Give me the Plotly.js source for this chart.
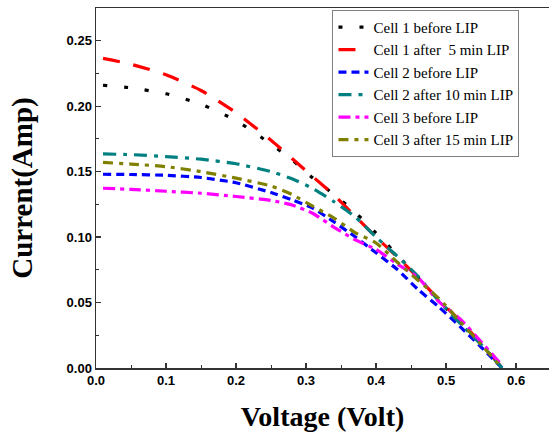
<!DOCTYPE html>
<html>
<head>
<meta charset="utf-8">
<script src="https://cdn.plot.ly/plotly-3.0.1.min.js"></script>
<style>
html,body{margin:0;padding:0;background:#fff;}
#chart{width:549px;height:435px;}
</style>
</head>
<body>
<div id="chart"></div>
<script>
// Voltage (V) sample points shared by all series
const voltage = [0.01, 0.05, 0.10, 0.15, 0.20, 0.25, 0.28, 0.31, 0.34, 0.37, 0.40, 0.43, 0.46, 0.49, 0.52, 0.55, 0.58];

const seriesNames = [
  "Cell 1 before LIP",
  "Cell 1 after  5 min LIP",
  "Cell 2 before LIP",
  "Cell 2 after 10 min LIP",
  "Cell 3 before LIP",
  "Cell 3 after 15 min LIP"
];

const cell1Before = [0.216, 0.214, 0.2095, 0.2015, 0.189, 0.171, 0.159, 0.145, 0.1325, 0.119, 0.103, 0.0865, 0.069, 0.051, 0.035, 0.018, 0.0];
const cell1After5 = [0.2365, 0.232, 0.224, 0.212, 0.195, 0.174, 0.160, 0.146, 0.132, 0.116, 0.100, 0.085, 0.069, 0.052, 0.036, 0.019, 0.0];
const cell2Before = [0.148, 0.1478, 0.1472, 0.1455, 0.1415, 0.134, 0.1285, 0.122, 0.1115, 0.1003, 0.088, 0.0754, 0.060, 0.0465, 0.0316, 0.016, 0.0];
const cell2After10 = [0.1635, 0.163, 0.1615, 0.1595, 0.156, 0.150, 0.1445, 0.137, 0.127, 0.1155, 0.100, 0.0855, 0.070, 0.051, 0.034, 0.018, 0.0];
const cell3Before = [0.1373, 0.1365, 0.135, 0.1335, 0.131, 0.128, 0.1245, 0.118, 0.1075, 0.098, 0.0905, 0.0795, 0.069, 0.0505, 0.0375, 0.020, 0.002];
const cell3After15 = [0.157, 0.1558, 0.1538, 0.150, 0.145, 0.139, 0.1325, 0.1235, 0.1145, 0.1035, 0.0955, 0.081, 0.067, 0.053, 0.0355, 0.018, 0.0];

const allSeries = [cell1Before, cell1After5, cell2Before, cell2After10, cell3Before, cell3After15];
const colors = ["#000000", "#ff0000", "#0000ff", "#008080", "#ff00ff", "#808000"];
const dashes = ["4px,17px", "17px,14px", "8px,5px", "13px,7px,4px,7px", "12px,5px,4px,5px", "10px,6px,4px,6px"];

const traces = allSeries.map((ys, i) => ({
  type: "scatter",
  mode: "lines",
  name: seriesNames[i],
  x: voltage,
  y: ys,
  line: {color: colors[i], width: 3.2, dash: dashes[i], shape: "spline", smoothing: 0.6}
}));

const layout = {
  width: 549,
  height: 435,
  margin: {l: 96, r: 0, t: 8, b: 67},
  paper_bgcolor: "#ffffff",
  plot_bgcolor: "#ffffff",
  showlegend: true,
  legend: {
    x: 0.522, y: 0.995, xanchor: "left", yanchor: "top",
    bgcolor: "#ffffff",
    bordercolor: "#808080",
    borderwidth: 1,
    font: {family: "Liberation Serif, Times New Roman, serif", size: 15, color: "#000000"},
    tracegroupgap: 0
  },
  xaxis: {
    range: [0, 0.647],
    tickvals: [0, 0.1, 0.2, 0.3, 0.4, 0.5, 0.6],
    ticktext: ["0.0", "0.1", "0.2", "0.3", "0.4", "0.5", "0.6"],
    ticks: "inside",
    ticklen: 5,
    tickwidth: 1.2,
    tickcolor: "#333333",
    minor: {dtick: 0.05, ticks: "inside", ticklen: 3, tickcolor: "#333333", tickwidth: 1},
    showgrid: false,
    zeroline: false,
    showline: true,
    linecolor: "#333333",
    linewidth: 1.5,
    mirror: true,
    tickfont: {family: "Liberation Sans, Arial, sans-serif", size: 13, color: "#000000", weight: "bold"},
    title: {text: "Voltage (Volt)", font: {family: "Liberation Serif, Times New Roman, serif", size: 28, color: "#000000", weight: "bold"}, standoff: 19}
  },
  yaxis: {
    range: [0, 0.275],
    tickvals: [0, 0.05, 0.10, 0.15, 0.20, 0.25],
    ticktext: ["0.00", "0.05", "0.10", "0.15", "0.20", "0.25"],
    ticks: "inside",
    ticklen: 5,
    tickwidth: 1.2,
    tickcolor: "#333333",
    minor: {dtick: 0.025, ticks: "inside", ticklen: 3, tickcolor: "#333333", tickwidth: 1},
    showgrid: false,
    zeroline: false,
    showline: true,
    linecolor: "#333333",
    linewidth: 1.5,
    mirror: true,
    tickfont: {family: "Liberation Sans, Arial, sans-serif", size: 13, color: "#000000", weight: "bold"},
    title: {text: "Current(Amp)", font: {family: "Liberation Serif, Times New Roman, serif", size: 29, color: "#000000", weight: "bold"}, standoff: 25}
  }
};

Plotly.newPlot("chart", traces, layout, {displayModeBar: false, staticPlot: true});
</script>
</body>
</html>
